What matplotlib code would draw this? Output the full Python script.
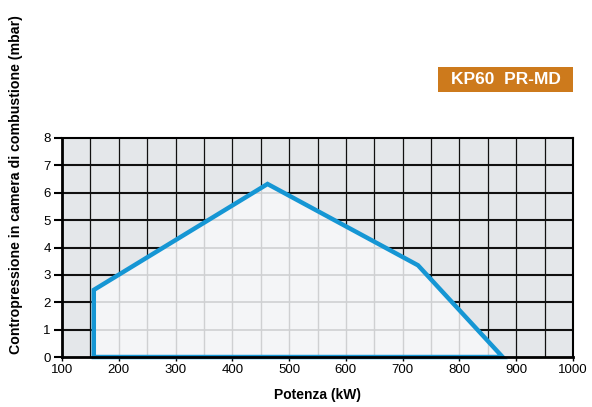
import matplotlib
matplotlib.use("Agg")
import matplotlib.pyplot as plt
from matplotlib.patches import Polygon, Rectangle
import numpy as np

plt.rcParams['font.family'] = ['Liberation Sans', 'DejaVu Sans']

# Data
power_kw = [156, 156, 462, 727, 876]
pressure_mbar = [0.0, 2.45, 6.32, 3.35, 0.0]
x_ticks = [100, 200, 300, 400, 500, 600, 700, 800, 900, 1000]
y_ticks = [0, 1, 2, 3, 4, 5, 6, 7, 8]
title_label = "KP60  PR-MD"
x_label = "Potenza (kW)"
y_label = "Contropressione in camera di combustione (mbar)"

W, H = 592, 407
fig = plt.figure(figsize=(W/100, H/100), dpi=100)
ax = fig.add_axes([62/W, 1-357/H, (573-62)/W, (357-138)/H])
ax.set_xlim(100, 1000)
ax.set_ylim(0, 8)
ax.set_facecolor('#e4e7ea')

# grid
xs_grid = np.arange(150, 1000, 50)
for xv in xs_grid:
    ax.axvline(xv, color='#111111', lw=0.9, zorder=1)
for yv in y_ticks[1:-1]:
    ax.axhline(yv, color='#111111', lw=1.5, zorder=1)

pts = np.column_stack([power_kw, pressure_mbar])
fill = Polygon(pts, closed=True, facecolor='#f4f5f7', edgecolor='none', zorder=2)
ax.add_patch(fill)
clip = Polygon(pts, closed=True, transform=ax.transData, facecolor='none', edgecolor='none')
ax.add_patch(clip)
for xv in xs_grid:
    l = ax.axvline(xv, color='#cfd0d2', lw=1.0, zorder=3)
    l.set_clip_path(clip)
for yv in y_ticks[1:-1]:
    l = ax.axhline(yv, color='#cfd0d2', lw=1.2, zorder=3)
    l.set_clip_path(clip)

outline = Polygon(pts, closed=True, facecolor='none', edgecolor='#1596d4',
                  lw=3.2, joinstyle='miter', zorder=5, clip_on=False)
ax.add_patch(outline)

for s in ['left', 'bottom']:
    ax.spines[s].set_linewidth(2.0)
for s in ['top', 'right']:
    ax.spines[s].set_linewidth(1.5)
for s in ax.spines.values():
    s.set_color('black')
    s.set_zorder(6)

ax.set_xticks(x_ticks)
ax.set_yticks(y_ticks)
ax.tick_params(axis='y', length=6, width=1.5, labelsize=9.5, pad=2)
ax.tick_params(axis='x', length=3, width=1.0, labelsize=9.5, pad=2)

ax.set_xlabel(x_label, fontsize=10, fontweight='bold', va='center')
ax.xaxis.set_label_coords(0.5, -(395-357)/(357-138))
ax.set_ylabel(y_label, fontsize=10.2, fontweight='bold', va='center')
ax.yaxis.set_label_coords(-(62-16)/(573-62), (357-185)/(357-138))

fig.add_artist(Rectangle((438/W, 1-92/H), (573-438)/W, 25/H, transform=fig.transFigure,
                         facecolor='#cd7a1c', edgecolor='none'))
fig.text(505.5/W, 1-79.5/H, title_label, color='white', fontsize=12.5, fontweight='bold',
         ha='center', va='center')

fig.savefig('out.png', dpi=100)
